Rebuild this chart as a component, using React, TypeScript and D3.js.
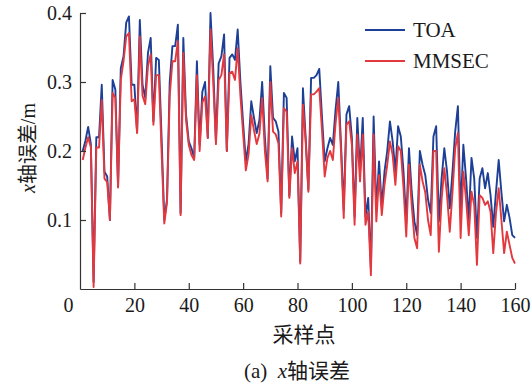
import * as d3 from 'd3';
import { useEffect, useRef } from 'react';

// sample index 1..160, x-axis error in metres
const toa = [
  0.200, 0.215, 0.235, 0.210, 0.010, 0.220, 0.220, 0.296, 0.170, 0.163,
  0.100, 0.303, 0.289, 0.149, 0.320, 0.337, 0.386, 0.395, 0.296, 0.296,
  0.228, 0.390, 0.296, 0.277, 0.342, 0.364, 0.243, 0.335, 0.332, 0.220,
  0.100, 0.130, 0.300, 0.352, 0.352, 0.383, 0.110, 0.364, 0.253, 0.214,
  0.204, 0.190, 0.330, 0.209, 0.286, 0.300, 0.219, 0.400, 0.320, 0.214,
  0.327, 0.337, 0.369, 0.200, 0.335, 0.340, 0.332, 0.376, 0.300, 0.240,
  0.185, 0.210, 0.272, 0.248, 0.226, 0.245, 0.300, 0.220, 0.160, 0.323,
  0.248, 0.243, 0.228, 0.110, 0.284, 0.277, 0.135, 0.221, 0.185, 0.204,
  0.040, 0.291, 0.219, 0.144, 0.306, 0.306, 0.310, 0.319, 0.250, 0.185,
  0.204, 0.219, 0.209, 0.260, 0.300, 0.210, 0.115, 0.253, 0.265, 0.219,
  0.105, 0.248, 0.170, 0.248, 0.105, 0.132, 0.030, 0.250, 0.115, 0.185,
  0.120, 0.170, 0.200, 0.243, 0.214, 0.170, 0.236, 0.221, 0.170, 0.095,
  0.204, 0.141, 0.098, 0.078, 0.200, 0.180, 0.165, 0.130, 0.110, 0.221,
  0.236, 0.098, 0.160, 0.204, 0.170, 0.117, 0.170, 0.228, 0.265, 0.110,
  0.209, 0.160, 0.100, 0.190, 0.160, 0.074, 0.160, 0.175, 0.146, 0.168,
  0.136, 0.090, 0.140, 0.187, 0.140, 0.098, 0.122, 0.103, 0.078, 0.074,
];

const mmsec = [
  0.187, 0.205, 0.220, 0.205, 0.003, 0.205, 0.205, 0.274, 0.160, 0.155,
  0.100, 0.284, 0.277, 0.147, 0.303, 0.330, 0.366, 0.371, 0.272, 0.275,
  0.226, 0.366, 0.280, 0.268, 0.323, 0.340, 0.238, 0.310, 0.310, 0.200,
  0.095, 0.125, 0.280, 0.330, 0.330, 0.359, 0.107, 0.342, 0.245, 0.209,
  0.194, 0.187, 0.310, 0.200, 0.270, 0.279, 0.219, 0.376, 0.300, 0.210,
  0.303, 0.310, 0.340, 0.200, 0.313, 0.315, 0.303, 0.349, 0.280, 0.225,
  0.172, 0.195, 0.252, 0.230, 0.210, 0.225, 0.277, 0.200, 0.156, 0.300,
  0.228, 0.224, 0.211, 0.105, 0.262, 0.257, 0.132, 0.204, 0.168, 0.185,
  0.037, 0.267, 0.214, 0.141, 0.282, 0.282, 0.286, 0.291, 0.230, 0.163,
  0.190, 0.200, 0.187, 0.240, 0.277, 0.200, 0.103, 0.238, 0.243, 0.209,
  0.093, 0.224, 0.156, 0.224, 0.093, 0.112, 0.020, 0.224, 0.098, 0.165,
  0.107, 0.151, 0.180, 0.214, 0.194, 0.151, 0.207, 0.200, 0.146, 0.076,
  0.180, 0.122, 0.074, 0.059, 0.180, 0.156, 0.140, 0.100, 0.078, 0.200,
  0.200, 0.054, 0.130, 0.175, 0.136, 0.083, 0.140, 0.204, 0.226, 0.074,
  0.170, 0.130, 0.078, 0.141, 0.122, 0.035, 0.136, 0.132, 0.122, 0.127,
  0.112, 0.052, 0.110, 0.146, 0.100, 0.052, 0.083, 0.064, 0.045, 0.037,
];

const xTicks = [0, 20, 40, 60, 80, 100, 120, 140, 160];
const yTicks = [0.1, 0.2, 0.3, 0.4];
const seriesNames = ['TOA', 'MMSEC'];
const seriesColors = ['#1d3f96', '#e2383e'];

const serif = '"Liberation Serif", "Times New Roman", serif';
const cjk = '"Noto Sans CJK SC", sans-serif';

const Chart = ({ width = 532, height = 385 }) => {
  const ref = useRef(null);

  useEffect(() => {
    const svg = d3.select(ref.current);
    svg.selectAll('*').remove();

    const margin = { top: 13, right: 17, bottom: 96, left: 80 };
    const innerWidth = width - margin.left - margin.right;
    const innerHeight = height - margin.top - margin.bottom;

    const x = d3.scaleLinear().domain([0, 160]).range([0, innerWidth]);
    const y = d3.scaleLinear().domain([0, 0.4]).range([innerHeight, 0]);

    const g = svg
      .attr('width', width)
      .attr('height', height)
      .append('g')
      .attr('transform', `translate(${margin.left},${margin.top})`);

    // lines: blue first, red on top
    const line = d3.line()
      .x((d, i) => x(i + 1))
      .y(d => y(d));

    [toa, mmsec].forEach((s, k) => {
      g.append('path')
        .datum(s)
        .attr('fill', 'none')
        .attr('stroke', seriesColors[k])
        .attr('stroke-width', 1.9)
        .attr('stroke-linejoin', 'round')
        .attr('d', line);
    });

    // axes, ticks point inward
    const xAxis = g.append('g')
      .attr('transform', `translate(0,${innerHeight})`)
      .call(d3.axisBottom(x).tickValues(xTicks).tickSize(-6).tickSizeOuter(0).tickPadding(9));

    const yAxis = g.append('g')
      .call(d3.axisLeft(y).tickValues(yTicks).tickSize(-6).tickSizeOuter(0).tickPadding(8)
        .tickFormat(d3.format('.1f')));

    [xAxis, yAxis].forEach(a => {
      a.select('.domain').attr('stroke', '#333').attr('stroke-width', 1.2);
      a.selectAll('.tick line').attr('stroke', '#333').attr('stroke-width', 1.2);
      a.selectAll('.tick text')
        .attr('fill', '#1a1a1a')
        .style('font-family', serif)
        .style('font-size', '20px');
    });
    xAxis.select('.tick line').remove();
    // the "0" label sits a little left of the corner in the original
    xAxis.selectAll('.tick text').filter(d => d === 0).attr('x', -12);

    // legend
    const legend = g.append('g').attr('transform', `translate(${285},${17})`);
    seriesNames.forEach((name, k) => {
      const row = legend.append('g').attr('transform', `translate(0,${k * 31})`);
      row.append('line')
        .attr('x1', 0).attr('x2', 40)
        .attr('stroke', seriesColors[k])
        .attr('stroke-width', 1.9);
      row.append('text')
        .attr('x', 48)
        .attr('y', 7)
        .attr('fill', '#1a1a1a')
        .style('font-family', serif)
        .style('font-size', '21px')
        .text(name);
    });

    // x-axis title
    svg.append('text')
      .attr('x', 304)
      .attr('y', 342)
      .attr('text-anchor', 'middle')
      .attr('fill', '#1a1a1a')
      .style('font-family', cjk)
      .style('font-size', '21px')
      .text('采样点');

    // caption
    const cap = svg.append('text')
      .attr('x', 297)
      .attr('y', 378)
      .attr('text-anchor', 'middle')
      .attr('fill', '#1a1a1a')
      .style('font-size', '21px');
    cap.append('tspan').style('font-family', serif).text('(a)\u00a0\u00a0');
    cap.append('tspan').style('font-family', serif).style('font-style', 'italic').text('x');
    cap.append('tspan').style('font-family', cjk).text('轴误差');

    // y-axis title
    const yl = svg.append('text')
      .attr('transform', 'translate(35,148) rotate(-90)')
      .attr('text-anchor', 'middle')
      .attr('fill', '#1a1a1a')
      .style('font-size', '20px');
    yl.append('tspan').style('font-family', serif).style('font-style', 'italic').text('x');
    yl.append('tspan').style('font-family', cjk).text('轴误差');
    yl.append('tspan').style('font-family', serif).text('/m');

    return () => {
      svg.selectAll('*').remove();
    };
  }, [width, height]);

  return <svg ref={ref} style={{ position: 'absolute', left: 0, top: 0, background: '#fff' }}></svg>;
};

export default function App() {
  return <Chart />;
}
